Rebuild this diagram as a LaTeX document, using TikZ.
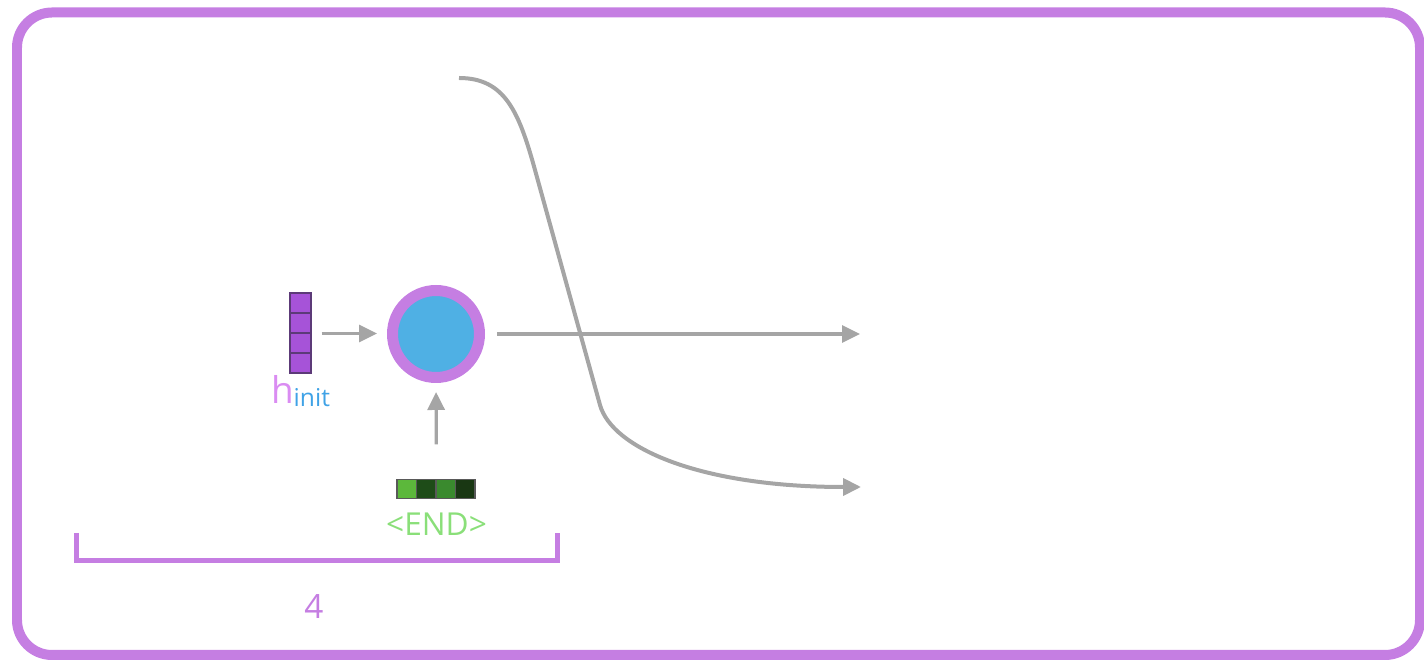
\documentclass[tikz,border=0pt]{standalone}
\usepackage{fontspec}
\setmainfont{Open Sans}
\usetikzlibrary{positioning,arrows.meta}
\definecolor{rimpurple}{HTML}{C57EE2}
\definecolor{cellblue}{HTML}{4FB0E4}
\definecolor{hfill}{HTML}{A653D8}
\definecolor{hedge}{HTML}{5C3A78}
\definecolor{hpink}{HTML}{DA8CF2}
\definecolor{initblue}{HTML}{3FA2E6}
\definecolor{endgreen}{HTML}{8ADF79}
\definecolor{gA}{HTML}{5CB83B}
\definecolor{gB}{HTML}{1E4C18}
\definecolor{gC}{HTML}{3A8A2E}
\definecolor{gD}{HTML}{193713}
\definecolor{arrgray}{HTML}{A5A5A5}

\begin{document}
\begin{tikzpicture}[x=0.02cm,y=-0.02cm,
  arr/.style={draw=arrgray,line width=0.065cm,-{Triangle[length=0.36cm,width=0.34cm]}},
  hcell/.style={draw=hedge,fill=hfill,line width=0.6pt,minimum width=0.42cm,minimum height=0.4cm,inner sep=0pt},
  ecell/.style={draw=black!65,line width=0.6pt,minimum width=0.39cm,minimum height=0.38cm,inner sep=0pt}]
\useasboundingbox (0,0) rectangle (1424,661);
% outer frame
\draw[rimpurple,line width=0.2cm,rounded corners=0.7cm] (17,12.5) rectangle (1420,655);
% initial hidden state vector
\foreach \i in {1,...,4}
  \node[hcell] (h\i) at (300.5,283+20*\i) {};
\node[below=0.04cm of h4,inner sep=0pt] (hlab) {\fontsize{21}{24}\selectfont\textcolor{hpink}{h}\raisebox{-1.7pt}{\fontsize{14}{16}\selectfont\textcolor{initblue}{init}}};
% recurrent cell
\node[circle,fill=cellblue,draw=rimpurple,line width=0.22cm,minimum size=1.74cm,inner sep=0pt] (rnn) at (436,334) {};
% <END> embedding
\foreach \c [count=\i] in {gA,gB,gC,gD}
  \node[ecell,fill=\c] (e\i) at (387.25+19.5*\i,489) {};
\node[below=0.28cm of e2.south east,inner sep=0pt,text=endgreen,font=\fontsize{18}{20}\selectfont] (endlab) {<END>};
% connectors
\draw[arr,shorten <=0.2cm,shorten >=0.2cm] (h2.south east) -- (h2.south east -| rnn.west);
\draw[arr,shorten <=0.69cm,shorten >=0.18cm] (e2.north east) -- (rnn.south);
\coordinate (out1) at (860,334);
\draw[arr,shorten <=0.24cm] (rnn.east) -- (out1);
% crossing curve from the top
\coordinate (ctop) at (459,78);
\coordinate (cbot) at (861,487);
\draw[arr,line width=0.08cm] (ctop) .. controls (505,78) and (519,112) .. (535,170) -- (600,405) .. controls (612,448) and (700,487) .. (cbot);
% length bracket
\draw[rimpurple,line width=0.1cm] (76.5,533) |- (557.5,560.5) -- (557.5,533);
\node[text=rimpurple,font=\fontsize{19}{22}\selectfont] (len) at (314,607) {4};
\end{tikzpicture}
\end{document}
